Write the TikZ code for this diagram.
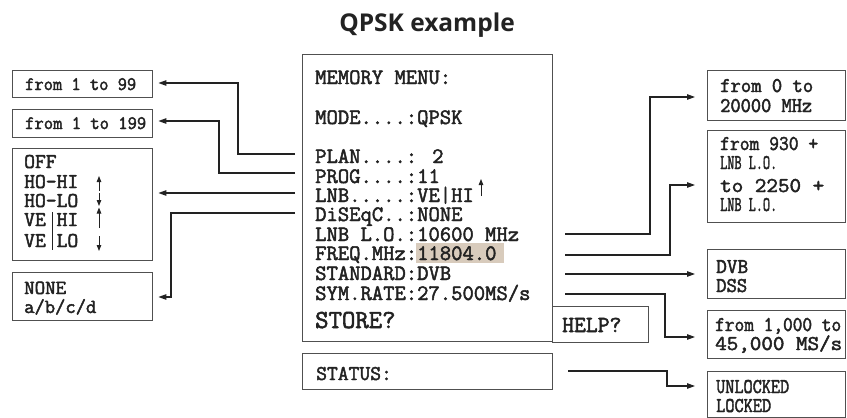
\documentclass[tikz,border=0pt]{standalone}
\usepackage{fontspec}
\usepackage{graphicx}
\usetikzlibrary{arrows.meta}
\newfontfamily\titlefont{Open Sans}
\newfontfamily\mono{Latin Modern Mono}[BoldFont={Latin Modern Mono}, BoldFeatures={FakeBold=2.2}]
\newsavebox\fwbox
\newcommand\fw[2]{\sbox\fwbox{#2}\pgfmathsetmacro\fwr{#1/\the\wd\fwbox}\scalebox{\fwr}[1]{\usebox\fwbox}}
\definecolor{ink}{HTML}{222222}
\definecolor{frame}{HTML}{505050}
\definecolor{hlc}{RGB}{216,203,188}
\begin{document}
\begin{tikzpicture}[x=1pt,y=-1pt,
  box/.style={draw=frame, line width=1.4pt, inner sep=0pt, anchor=north west},
  conn/.style={draw=ink, line width=1.1pt},
  arrL/.style={conn, -{Triangle[length=8pt,width=5.5pt]}, shorten >=5pt},
  arrR/.style={conn, -{Triangle[length=8pt,width=5.5pt]}, shorten >=12pt},
  small/.style={draw=ink, line width=0.9pt, -{Triangle[length=6pt,width=4.5pt]}},
  txt/.style={anchor=base west, inner sep=0pt, text=ink},
  mainf/.style={txt, font=\mono\bfseries\fontsize{22pt}{22pt}\selectfont},
  leftf/.style={txt, font=\mono\bfseries\fontsize{19pt}{19pt}\selectfont},
  lnbf/.style={txt, font=\mono\bfseries\fontsize{21pt}{21pt}\selectfont},
  nonef/.style={txt, font=\mono\bfseries\fontsize{20pt}{20pt}\selectfont},
  rightf/.style={txt, font=\mono\bfseries\fontsize{21pt}{21pt}\selectfont},
]
\useasboundingbox (0,0) rectangle (847,418);

% title
\node[anchor=base, inner sep=0pt, text=ink, font=\titlefont\bfseries\fontsize{24.5pt}{24.5pt}\selectfont] (title) at (427,31) {QPSK example};

% left boxes
\node[box, minimum width=140pt, minimum height=27pt] (b99) at (12,70) {};
\node[box, minimum width=140pt, minimum height=28pt] (b199) at (12,109) {};
\node[box, minimum width=140pt, minimum height=112pt] (bLNB) at (12,148) {};
\node[box, minimum width=140pt, minimum height=48pt] (bNONE) at (12,272) {};

% main boxes
\node[box, minimum width=250pt, minimum height=287pt] (main) at (302,54) {};
\node[box, minimum width=96pt, minimum height=36pt] (help) at (552,306) {};
\node[box, minimum width=250pt, minimum height=36pt] (status) at (302,353) {};

% right boxes
\node[box, minimum width=138pt, minimum height=50pt] (r1) at (707,70) {};
\node[box, minimum width=138pt, minimum height=92pt] (r2) at (707,130) {};
\node[box, minimum width=138pt, minimum height=49pt] (r3) at (707,249) {};
\node[box, minimum width=138pt, minimum height=48pt] (r4) at (707,310) {};
\node[box, minimum width=138pt, minimum height=46pt] (r5) at (707,371) {};

% highlight
\node[fill=hlc, inner sep=0pt, minimum width=88pt, minimum height=20pt, anchor=north west] (hl) at (416,243) {};

% main text
\node[mainf] (m1) at (315,84) {MEMORY MENU:};
\node[mainf] (m2) at (315,124) {MODE....:QPSK};
\node[mainf] (m3) at (315,163) {PLAN....: 2};
\node[mainf] (m4) at (315,183) {PROG....:11};
\node[mainf] (m5) at (315,202) {LNB.....:VE|HI};
\node[mainf] (m6) at (315,221) {DiSEqC..:NONE};
\node[mainf] (m7) at (315,241) {LNB L.O.:10600 MHz};
\node[mainf] (m8) at (315,260) {FREQ.MHz:11804.0};
\node[mainf] (m9) at (315,280) {STANDARD:DVB};
\node[mainf] (m10) at (315,300) {SYM.RATE:27.500MS/s};
\node[txt, font=\mono\bfseries\fontsize{26pt}{26pt}\selectfont] (store) at (315,328) {STORE?};
\node[txt, font=\mono\bfseries\fontsize{21pt}{21pt}\selectfont] (stat) at (316,380) {STATUS:};
\node[txt, font=\mono\bfseries\fontsize{23pt}{23pt}\selectfont] (helpt) at (562,332) {HELP?};
\draw[small] (481,196) -- (481,179);

% left text
\node[leftf] (l1) at (25,90) {\fw{111pt}{from 1 to 99}};
\node[leftf] (l2) at (25,129) {\fw{121pt}{from 1 to 199}};
\node[lnbf] (n1) at (24,168) {OFF};
\node[lnbf] (n2) at (24,188) {HO-HI};
\node[lnbf] (n3) at (24,207) {HO-LO};
\node[lnbf] (n4) at (24,226) {VE HI};
\node[lnbf] (n5) at (24,247) {VE LO};
\draw[draw=ink, line width=0.9pt] (52.5,212) -- (52.5,250);
\draw[small] (99,191) -- (99,176);
\draw[small] (99,193) -- (99,206);
\draw[small] (99,228) -- (99,207.5);
\draw[small] (99,236) -- (99,251);
\node[nonef] (o1) at (24,294) {\fw{42pt}{NONE}};
\node[nonef] (o2) at (24,313) {a/b/c/d};

% right text
\node[rightf] (p1) at (720,92) {\fw{93pt}{from 0 to}};
\node[rightf] (p2) at (720,112) {\fw{92pt}{20000 MHz}};
\node[rightf] (q1) at (720,150) {\fw{98pt}{from 930 +}};
\node[rightf] (q2) at (720,169) {\fw{57pt}{LNB L.O.}};
\node[rightf] (q3) at (720,192) {\fw{104pt}{to 2250 +}};
\node[rightf] (q4) at (720,211) {\fw{57pt}{LNB L.O.}};
\node[rightf] (s1) at (716,273) {\fw{32pt}{DVB}};
\node[rightf] (s2) at (716,292) {\fw{31pt}{DSS}};
\node[rightf] (u1) at (715,331) {\fw{126pt}{from 1,000 to}};
\node[rightf] (u2) at (715,350) {\fw{127pt}{45,000 MS/s}};
\node[rightf] (k1) at (716,393) {\fw{73pt}{UNLOCKED}};
\node[rightf] (k2) at (716,412) {\fw{55pt}{LOCKED}};

% left connectors
\coordinate (sPLAN) at (295,154);
\coordinate (sPROG) at (295,173);
\coordinate (sLNB) at (295,193);
\coordinate (sDIS) at (295,213);
\draw[arrL] (sPLAN) -- (238,154) |- (b99.east |- 0,83);
\draw[arrL] (sPROG) -- (219,173) |- (b199.east |- 0,121);
\draw[arrL] (sLNB) -- (bLNB.east |- sLNB);
\draw[arrL] (sDIS) -- (171,213) |- (bNONE.east |- 0,297);

% right connectors
\coordinate (sLO) at (565,234);
\coordinate (sFREQ) at (565,255);
\coordinate (sSTD) at (565,274);
\coordinate (sSYM) at (565,294);
\coordinate (sSTAT) at (568,371);
\draw[arrR] (sLO) -- (650,234) |- (r1.west |- 0,97);
\draw[arrR] (sFREQ) -- (670,255) |- (r2.west |- 0,185);
\draw[arrR] (sSTD) -- (r3.west |- sSTD);
\draw[arrR] (sSYM) -- (665,294) |- (r4.west |- 0,337);
\draw[arrR] (sSTAT) -- (667,371) |- (r5.west |- 0,386);
\end{tikzpicture}
\end{document}
